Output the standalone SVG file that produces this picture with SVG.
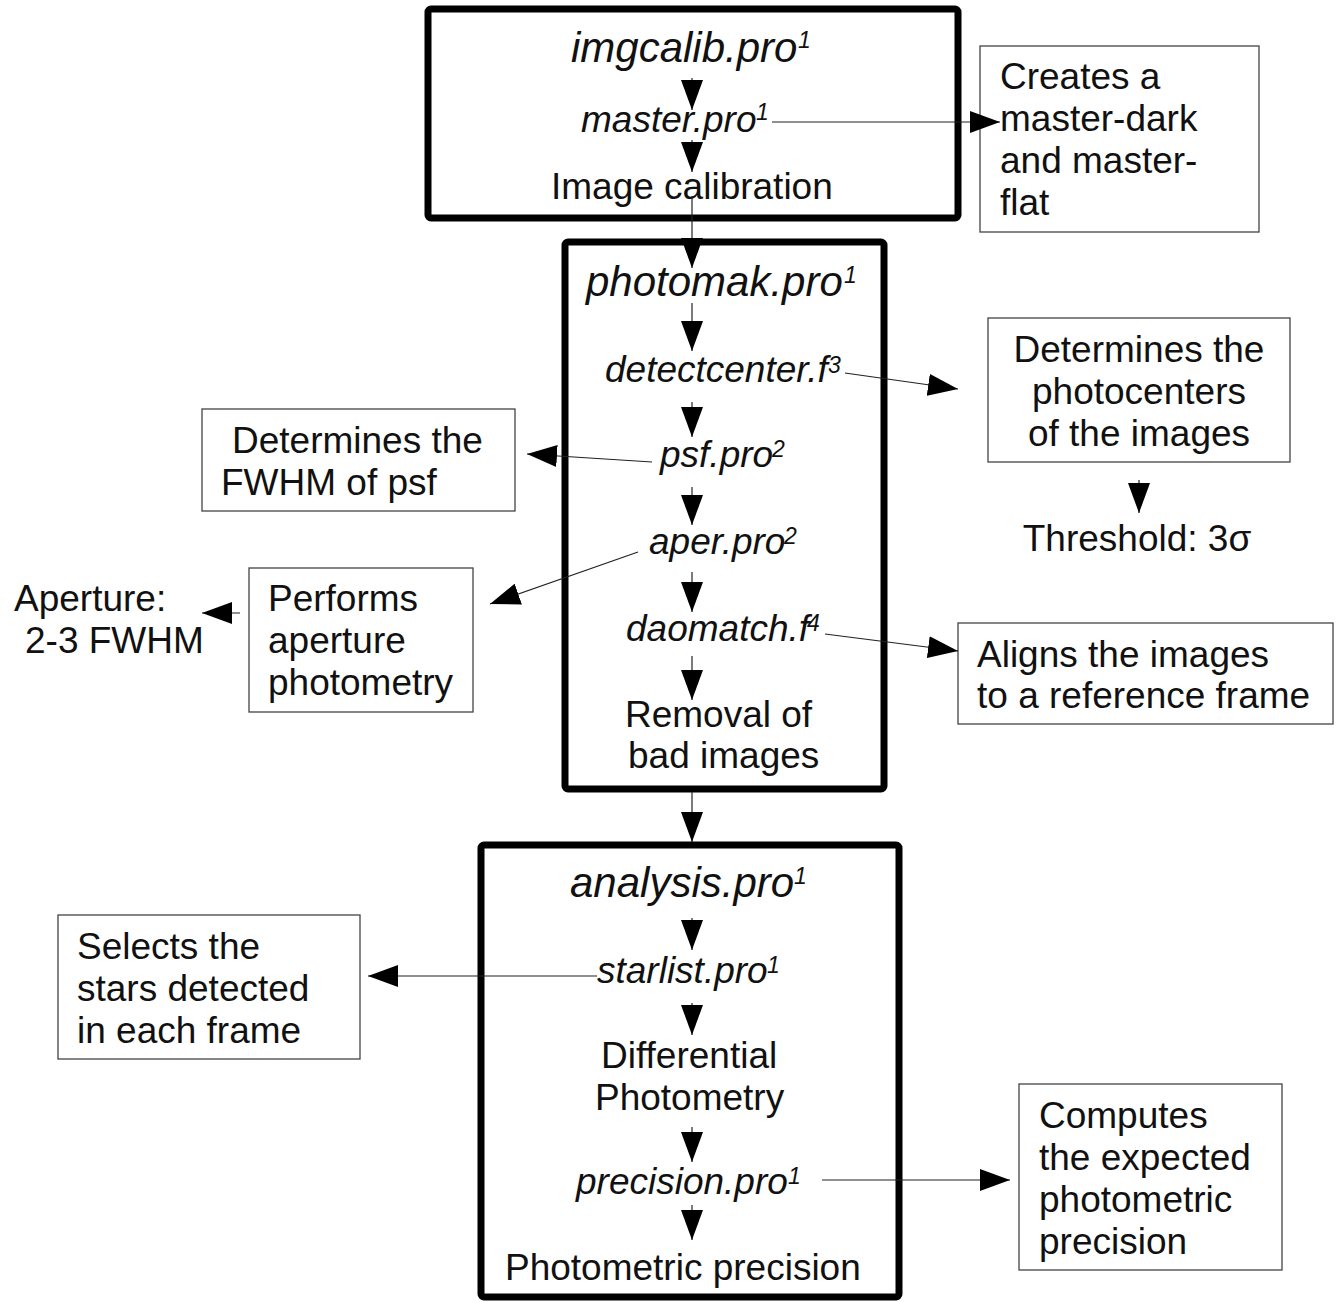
<svg xmlns="http://www.w3.org/2000/svg" width="1342" height="1302" viewBox="0 0 1342 1302">
<defs>
<marker id="ah" markerUnits="userSpaceOnUse" markerWidth="30" markerHeight="22" refX="30" refY="11" orient="auto">
<path d="M0,0 L30,11 L0,22 z" fill="#000"/>
</marker>
<style>
text{font-family:"Liberation Sans",Arial,sans-serif;font-size:37px;fill:#111}
.big{font-size:42px;font-style:italic}
.it{font-style:italic}
.sup{font-size:23px;font-style:italic}
.thick{fill:none;stroke:#000;stroke-width:7}
.thin{fill:#fff;stroke:#444;stroke-width:1.3}
.c{text-anchor:middle}
.con line{stroke:#222;stroke-width:1.2;marker-end:url(#ah)}
</style>
</defs>
<rect width="1342" height="1302" fill="#fff"/>

<g id="imgcalib">
<rect class="thick" x="428" y="9" width="530" height="209" rx="3"/>
<text class="big" x="571" y="62">imgcalib.pro</text>
<text class="sup" x="798" y="48">1</text>
<text class="it" x="581" y="132">master.pro</text>
<text class="sup" x="756" y="120">1</text>
<text x="551" y="199">Image calibration</text>
</g>

<g id="creates">
<rect class="thin" x="980" y="46" width="279" height="186"/>
<text x="1000" y="89">Creates a</text>
<text x="1000" y="131">master-dark</text>
<text x="1000" y="173">and master-</text>
<text x="1000" y="215">flat</text>
</g>

<g id="photomak">
<rect class="thick" x="565" y="242" width="319" height="547" rx="3"/>
<text class="big" x="586" y="296">photomak.pro</text>
<text class="sup" x="844" y="283">1</text>
<text class="it" x="605" y="382">detectcenter.f</text>
<text class="sup" x="828" y="373">3</text>
<text class="it" x="660" y="467">psf.pro</text>
<text class="sup" x="772" y="457">2</text>
<text class="it" x="649" y="554">aper.pro</text>
<text class="sup" x="784" y="544">2</text>
<text class="it" x="626" y="641">daomatch.f</text>
<text class="sup" x="807" y="631">4</text>
<text x="625" y="727">Removal of</text>
<text x="628" y="768">bad images</text>
</g>

<g id="photocenters">
<rect class="thin" x="988" y="318" width="302" height="144"/>
<text class="c" x="1139" y="362">Determines the</text>
<text class="c" x="1139" y="404">photocenters</text>
<text class="c" x="1139" y="446">of the images</text>
</g>

<g id="threshold">
<text class="c" x="1137" y="551">Threshold: 3σ</text>
</g>

<g id="fwhm">
<rect class="thin" x="202" y="409" width="313" height="102"/>
<text x="232" y="453">Determines the</text>
<text x="221" y="495">FWHM of psf</text>
</g>

<g id="performs">
<rect class="thin" x="249" y="568" width="224" height="144"/>
<text x="268" y="611">Performs</text>
<text x="268" y="653">aperture</text>
<text x="268" y="695">photometry</text>
</g>

<g id="aperture">
<text x="14" y="611">Aperture:</text>
<text x="25" y="653">2-3 FWHM</text>
</g>

<g id="aligns">
<rect class="thin" x="958" y="623" width="375" height="101"/>
<text x="977" y="667">Aligns the images</text>
<text x="977" y="708">to a reference frame</text>
</g>

<g id="analysis">
<rect class="thick" x="481" y="845" width="418" height="452" rx="3"/>
<text class="big" x="570" y="897">analysis.pro</text>
<text class="sup" x="794" y="884">1</text>
<text class="it" x="597" y="983">starlist.pro</text>
<text class="sup" x="767" y="973">1</text>
<text x="601" y="1068">Differential</text>
<text x="595" y="1110">Photometry</text>
<text class="it" x="576" y="1194">precision.pro</text>
<text class="sup" x="788" y="1184">1</text>
<text x="505" y="1280">Photometric precision</text>
</g>

<g id="selects">
<rect class="thin" x="58" y="915" width="302" height="144"/>
<text x="77" y="959">Selects the</text>
<text x="77" y="1001">stars detected</text>
<text x="77" y="1043">in each frame</text>
</g>

<g id="computes">
<rect class="thin" x="1019" y="1084" width="263" height="186"/>
<text x="1039" y="1128">Computes</text>
<text x="1039" y="1170">the expected</text>
<text x="1039" y="1212">photometric</text>
<text x="1039" y="1254">precision</text>
</g>

<g id="connectors" class="con">
<line x1="692" y1="78" x2="692" y2="110"/>
<line x1="692" y1="140" x2="692" y2="172"/>
<line x1="772" y1="122" x2="1000" y2="122"/>
<line x1="692" y1="196" x2="692" y2="268"/>
<line x1="692" y1="303" x2="692" y2="351"/>
<line x1="692" y1="402" x2="692" y2="437"/>
<line x1="692" y1="487" x2="692" y2="525"/>
<line x1="692" y1="572" x2="692" y2="612"/>
<line x1="692" y1="656" x2="692" y2="700"/>
<line x1="845" y1="373" x2="958" y2="389"/>
<line x1="652" y1="462" x2="527" y2="454"/>
<line x1="638" y1="552" x2="490" y2="604"/>
<line x1="825" y1="634" x2="958" y2="651"/>
<line x1="240" y1="613" x2="202" y2="613"/>
<line x1="1139" y1="480" x2="1139" y2="513"/>
<line x1="692" y1="792" x2="692" y2="842"/>
<line x1="692" y1="918" x2="692" y2="950"/>
<line x1="692" y1="1003" x2="692" y2="1035"/>
<line x1="692" y1="1127" x2="692" y2="1162"/>
<line x1="692" y1="1205" x2="692" y2="1240"/>
<line x1="597" y1="976" x2="368" y2="976"/>
<line x1="822" y1="1180" x2="1010" y2="1180"/>
</g>
</svg>
